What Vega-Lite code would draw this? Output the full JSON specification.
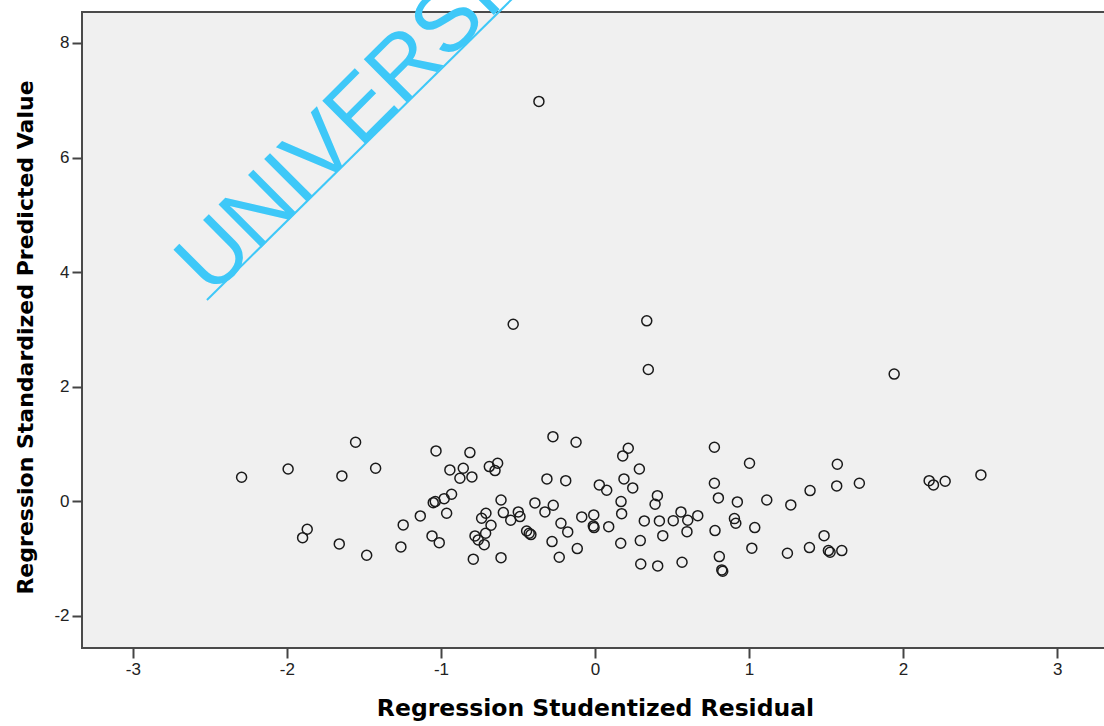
{
  "$schema": "https://vega.github.io/schema/vega-lite/v6.json",
  "autosize": {"type": "none"},
  "padding": {"left": 82, "top": 12, "right": 0, "bottom": 78},
  "width": 1026,
  "height": 636,
  "background": "white",
  "config": {"view": {"fill": "#F0F0F0", "stroke": "#4a4a4a", "strokeWidth": 2}},
  "datasets": {
    "points": [
      {"x": -0.364, "y": 6.98}, {"x": -0.531, "y": 3.09}, {"x": 0.336, "y": 3.15}, {"x": 0.346, "y": 2.30}, {"x": 1.942, "y": 2.22},
      {"x": -2.294, "y": 0.42}, {"x": -1.992, "y": 0.565}, {"x": -1.554, "y": 1.031}, {"x": -1.643, "y": 0.443}, {"x": -1.424, "y": 0.578},
      {"x": -1.032, "y": 0.880}, {"x": -0.812, "y": 0.850}, {"x": -0.942, "y": 0.548}, {"x": -0.855, "y": 0.578}, {"x": -0.877, "y": 0.403},
      {"x": -0.799, "y": 0.426}, {"x": -0.686, "y": 0.606}, {"x": -0.632, "y": 0.665}, {"x": -0.649, "y": 0.536},
      {"x": -1.868, "y": -0.487}, {"x": -1.898, "y": -0.634}, {"x": -1.660, "y": -0.743}, {"x": -1.482, "y": -0.941},
      {"x": -1.245, "y": -0.412}, {"x": -1.134, "y": -0.255}, {"x": -1.260, "y": -0.796}, {"x": -1.050, "y": -0.023},
      {"x": -1.037, "y": -0.005}, {"x": -0.979, "y": 0.047}, {"x": -0.931, "y": 0.124}, {"x": -0.963, "y": -0.208},
      {"x": -1.058, "y": -0.604}, {"x": -1.011, "y": -0.721}, {"x": -0.790, "y": -1.010}, {"x": -0.610, "y": -0.983},
      {"x": -0.610, "y": 0.024}, {"x": -0.708, "y": -0.208}, {"x": -0.736, "y": -0.295}, {"x": -0.675, "y": -0.417},
      {"x": -0.595, "y": -0.197}, {"x": -0.547, "y": -0.330}, {"x": -0.498, "y": -0.185}, {"x": -0.487, "y": -0.267},
      {"x": -0.710, "y": -0.557}, {"x": -0.779, "y": -0.604}, {"x": -0.758, "y": -0.674}, {"x": -0.719, "y": -0.756},
      {"x": -0.444, "y": -0.517}, {"x": -0.416, "y": -0.581}, {"x": -0.427, "y": -0.557}, {"x": -0.390, "y": -0.028},
      {"x": -0.325, "y": -0.185},
      {"x": -0.273, "y": 1.129}, {"x": -0.123, "y": 1.031}, {"x": 0.216, "y": 0.927}, {"x": 0.180, "y": 0.792},
      {"x": 0.288, "y": 0.565}, {"x": -0.312, "y": 0.391}, {"x": -0.190, "y": 0.361}, {"x": 0.028, "y": 0.286},
      {"x": 0.076, "y": 0.194}, {"x": 0.188, "y": 0.391}, {"x": 0.245, "y": 0.234}, {"x": 0.775, "y": 0.944},
      {"x": 1.003, "y": 0.665}, {"x": 1.573, "y": 0.647}, {"x": 0.775, "y": 0.316}, {"x": 1.569, "y": 0.269},
      {"x": 1.396, "y": 0.187}, {"x": 0.801, "y": 0.059}, {"x": 0.924, "y": -0.010}, {"x": 1.115, "y": 0.024},
      {"x": 1.271, "y": -0.063}, {"x": 0.405, "y": 0.099}, {"x": 0.390, "y": -0.051}, {"x": 0.169, "y": -0.005},
      {"x": 0.173, "y": -0.215}, {"x": -0.271, "y": -0.068}, {"x": -0.221, "y": -0.382}, {"x": -0.177, "y": -0.534},
      {"x": -0.279, "y": -0.703}, {"x": -0.232, "y": -0.976}, {"x": -0.115, "y": -0.825}, {"x": -0.086, "y": -0.272},
      {"x": -0.008, "y": -0.237}, {"x": -0.011, "y": -0.429}, {"x": -0.006, "y": -0.459}, {"x": 0.089, "y": -0.442},
      {"x": 0.167, "y": -0.731}, {"x": 0.294, "y": -0.686}, {"x": 0.320, "y": -0.342}, {"x": 0.418, "y": -0.342},
      {"x": 0.440, "y": -0.599}, {"x": 0.508, "y": -0.337}, {"x": 0.558, "y": -0.185}, {"x": 0.602, "y": -0.330},
      {"x": 0.667, "y": -0.250}, {"x": 0.597, "y": -0.529}, {"x": 0.297, "y": -1.093}, {"x": 0.407, "y": -1.127},
      {"x": 0.565, "y": -1.063}, {"x": 0.779, "y": -0.511}, {"x": 0.807, "y": -0.965}, {"x": 0.823, "y": -1.197},
      {"x": 0.829, "y": -1.220}, {"x": 0.905, "y": -0.302}, {"x": 0.914, "y": -0.382}, {"x": 1.037, "y": -0.459},
      {"x": 1.018, "y": -0.818}, {"x": 1.249, "y": -0.906}, {"x": 1.392, "y": -0.808}, {"x": 1.487, "y": -0.599},
      {"x": 1.515, "y": -0.860}, {"x": 1.526, "y": -0.888}, {"x": 1.602, "y": -0.860},
      {"x": 1.716, "y": 0.316}, {"x": 2.169, "y": 0.361}, {"x": 2.197, "y": 0.286}, {"x": 2.273, "y": 0.351}, {"x": 2.505, "y": 0.461}
    ],
    "wmtext": [{"x": -2.49, "y": 3.56, "label": "UNIVERSITY"}],
    "wmline": [{"x": -2.519, "y": 3.515, "x2": -0.30, "y2": 9.4}]
  },
  "layer": [
    {
      "data": {"name": "points"},
      "mark": {"type": "point", "shape": "circle", "filled": false, "size": 100, "stroke": "#1a1a1a", "strokeWidth": 1.5, "opacity": 1},
      "encoding": {
        "x": {
          "field": "x", "type": "quantitative",
          "scale": {"domain": [-3.33, 3.33], "nice": false, "zero": false},
          "axis": {
            "title": "Regression Studentized Residual",
            "values": [-3, -2, -1, 0, 1, 2, 3],
            "labelExpr": "'' + datum.value",
            "grid": false, "domain": false,
            "tickColor": "#444", "tickWidth": 2, "tickSize": 10,
            "labelFont": "Liberation Sans", "labelFontSize": 17, "labelColor": "#222", "labelPadding": 3,
            "titleFont": "DejaVu Sans", "titleFontWeight": "bold", "titleFontSize": 23.5, "titleColor": "#000", "titlePadding": 19
          }
        },
        "y": {
          "field": "y", "type": "quantitative",
          "scale": {"domain": [-2.56, 8.54], "nice": false, "zero": false},
          "axis": {
            "title": "Regression Standardized Predicted Value",
            "values": [-2, 0, 2, 4, 6, 8],
            "labelExpr": "'' + datum.value",
            "grid": false, "domain": false,
            "tickColor": "#444", "tickWidth": 2, "tickSize": 10,
            "labelFont": "Liberation Sans", "labelFontSize": 17, "labelColor": "#222", "labelPadding": 3,
            "titleFont": "DejaVu Sans", "titleFontWeight": "bold", "titleFontSize": 22, "titleColor": "#000", "titlePadding": 16,
            "titleY": 325
          }
        }
      }
    },
    {
      "data": {"name": "wmline"},
      "mark": {"type": "rule", "color": "#3EC8F8", "strokeWidth": 2, "clip": false},
      "encoding": {
        "x": {"field": "x", "type": "quantitative"},
        "y": {"field": "y", "type": "quantitative"},
        "x2": {"field": "x2"},
        "y2": {"field": "y2"}
      }
    },
    {
      "data": {"name": "wmtext"},
      "mark": {"type": "text", "angle": 315, "align": "left", "baseline": "alphabetic", "font": "Liberation Sans", "fontSize": 88, "color": "#3EC8F8", "clip": false},
      "encoding": {
        "x": {"field": "x", "type": "quantitative"},
        "y": {"field": "y", "type": "quantitative"},
        "text": {"field": "label"}
      }
    }
  ]
}
